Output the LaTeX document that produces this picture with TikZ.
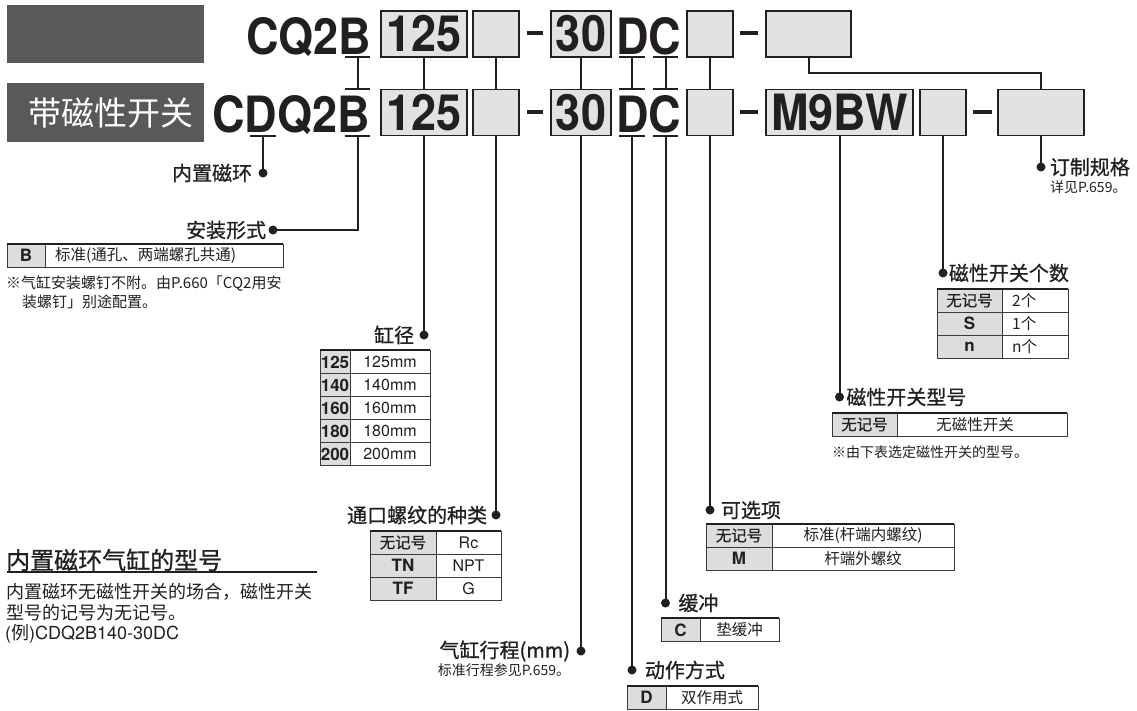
\documentclass[tikz,border=0pt]{standalone}
\usepackage{fontspec}
\setmainfont{Noto Sans CJK SC}
\newfontfamily\cjk{Noto Sans CJK SC}
\newfontfamily\cjkm{Noto Sans CJK SC}[FakeBold=0.8]
\newfontfamily\bigf{TeX Gyre Heros}[FakeStretch=0.9]
\newfontfamily\latf{TeX Gyre Heros}
\newcommand\bigtxt{\bigf\bfseries\fontsize{50}{50}\selectfont}
\newcommand\labf{\cjkm\fontsize{20}{20}\selectfont}
\newcommand\tabf{\cjk\fontsize{15.5}{15.5}\selectfont}
\newcommand\tabk{\cjkm\fontsize{15.5}{15.5}\selectfont}
\newcommand\codef{\latf\bfseries\fontsize{17}{17}\selectfont}
\newcommand\numf{\latf\fontsize{16}{16}\selectfont}
\newcommand\notef{\cjk\fontsize{14}{14}\selectfont}
\definecolor{ink}{HTML}{231F20}
\definecolor{hdr}{HTML}{58595B}
\definecolor{boxg}{HTML}{E1E2E3}
\definecolor{keyg}{HTML}{DCDDDE}
\definecolor{tline}{HTML}{3A3A3C}
\begin{document}
\begin{tikzpicture}[x=1pt,y=-1pt,
  ln/.style={draw=ink, line width=2pt},
  codebox/.style={draw=ink, line width=1.6pt, fill=boxg, inner sep=0pt, minimum height=46pt, font=\bigtxt, text=ink},
  bigt/.style={inner sep=0pt, font=\bigtxt, text=ink},
  dotn/.style={circle, fill=ink, inner sep=0pt, minimum size=9pt},
  lab/.style={inner sep=0pt, font=\labf, text=ink},
  txt/.style={inner sep=0pt, text=ink},
  kc/.style={draw=tline, line width=0.8pt, fill=keyg, inner sep=0pt, minimum height=23pt, text=ink},
  vc/.style={draw=tline, line width=0.8pt, fill=white, inner sep=0pt, minimum height=23pt, text=ink},
  topl/.style={draw=ink, line width=1.8pt},
  dashbar/.style={fill=ink, inner sep=0pt, minimum width=16pt, minimum height=3.6pt}
]
\useasboundingbox (0,0) rectangle (1137,710);
\fill[white] (0,0) rectangle (1137,710);

% header boxes
\node[fill=hdr, inner sep=0pt, minimum width=197pt, minimum height=58pt] (hdr1) at (105.5,34) {};
\node[fill=hdr, inner sep=0pt, minimum width=197pt, minimum height=59pt] (hdr2) at (105.5,112.5) {};
\node[txt, text=white, font=\cjk\fontsize{33}{33}\selectfont] (hdrt) at (111,113) {带磁性开关};

% top row
\node[bigt, anchor=base west] (tCQ) at (246,54) {CQ2B};
\node[codebox, minimum width=86pt] (b125t) at (424,34) {125};
\node[codebox, minimum width=46pt] (e1t) at (496,34) {};
\node[dashbar] (da1) at (535,33) {};
\node[codebox, minimum width=60pt] (b30t) at (581,34) {30};
\node[bigt, anchor=base west] (tDCt) at (616,54) {DC};
\node[codebox, minimum width=46pt] (e2t) at (710,34) {};
\node[dashbar, minimum width=18pt] (da2) at (749,33) {};
\node[codebox, minimum width=85pt] (wt) at (808.5,34) {};

% bottom row
\node[bigt, anchor=base west] (tCDQ) at (212,132) {CDQ2B};
\node[codebox, minimum width=86pt] (b125b) at (424,112.5) {125};
\node[codebox, minimum width=46pt] (e1b) at (496,112.5) {};
\node[dashbar] (da3) at (535,112) {};
\node[codebox, minimum width=60pt] (b30b) at (581,112.5) {30};
\node[bigt, anchor=base west] (tDCb) at (616,132) {DC};
\node[codebox, minimum width=46pt] (e2b) at (710,112.5) {};
\node[dashbar, minimum width=18pt] (da4) at (749,112) {};
\node[codebox, minimum width=147pt] (m9b) at (839.5,112.5) {M9BW};
\node[codebox, minimum width=46pt] (cntb) at (943,112.5) {};
\node[dashbar, minimum width=19pt] (da5) at (982.5,112) {};
\node[codebox, minimum width=86pt] (fb) at (1041,112.5) {};

% connectors between rows
\draw[ln] (b125t.south) -- (b125b.north);
\draw[ln] (e1t.south) -- (e1b.north);
\draw[ln] (b30t.south) -- (b30b.north);
\draw[ln] (e2t.south) -- (e2b.north);
\draw[ln] (wt.south) -- ++(0,15) -| (fb.north);

% I-beam for B
\coordinate (bBt1) at (345,57); \coordinate (bBt2) at (370,57); \coordinate (bBtm) at (357.5,57);
\coordinate (bBb1) at (345,89); \coordinate (bBb2) at (370,89); \coordinate (bBbm) at (357.5,89);
\draw[ln] (bBt1) -- (bBt2); \draw[ln] (bBb1) -- (bBb2); \draw[ln] (bBtm) -- (bBbm);
% I-beam for D
\coordinate (bDt1) at (619,57); \coordinate (bDt2) at (645,57); \coordinate (bDtm) at (632,57);
\coordinate (bDb1) at (619,89); \coordinate (bDb2) at (645,89); \coordinate (bDbm) at (632,89);
\draw[ln] (bDt1) -- (bDt2); \draw[ln] (bDb1) -- (bDb2); \draw[ln] (bDtm) -- (bDbm);
% I-beam for C
\coordinate (bCt1) at (653,57); \coordinate (bCt2) at (678,57); \coordinate (bCtm) at (665.5,57);
\coordinate (bCb1) at (653,89); \coordinate (bCb2) at (678,89); \coordinate (bCbm) at (665.5,89);
\draw[ln] (bCt1) -- (bCt2); \draw[ln] (bCb1) -- (bCb2); \draw[ln] (bCtm) -- (bCbm);

% under-bars bottom row
\coordinate (uD1) at (250,136); \coordinate (uD2) at (276,136); \coordinate (uDm) at (263,136);
\coordinate (uB1) at (345,136); \coordinate (uB2) at (370,136); \coordinate (uBm) at (357.5,136);
\coordinate (uDD1) at (619,136); \coordinate (uDD2) at (645,136); \coordinate (uDDm) at (632,136);
\coordinate (uCC1) at (653,136); \coordinate (uCC2) at (678,136); \coordinate (uCCm) at (665.5,136);
\draw[ln] (uD1) -- (uD2); \draw[ln] (uB1) -- (uB2);
\draw[ln] (uDD1) -- (uDD2); \draw[ln] (uCC1) -- (uCC2);

% ---- 内置磁环
\node[dotn] (dNZ) at (263,173) {};
\draw[ln] (uDm) -- (dNZ.center);
\node[lab, anchor=east] (lNZ) at ([xshift=-6pt]dNZ.west) {内置磁环};

% ---- 安装形式
\node[dotn] (dAZ) at (273,230) {};
\draw[ln] (uBm) |- (dAZ.center);
\node[lab, anchor=east] (lAZ) at ([xshift=-2pt]dAZ.west) {安装形式};
\node[kc, minimum width=38pt] (tBk) at (26,255.5) {\codef B};
\node[vc, minimum width=238pt] (tBv) at (164,255.5) {};
\node[txt, anchor=west, font=\tabf] (tBt) at (55,255.5) {标准(通孔、两端螺孔共通)};
\draw[topl] (tBk.north west) -- (tBv.north east);
\node[txt, anchor=west, font=\cjk\fontsize{15}{15}\selectfont] (nB1) at (6,283) {※气缸安装螺钉不附。由P.660「CQ2用安};
\node[txt, anchor=west, font=\cjk\fontsize{15}{15}\selectfont] (nB2) at (22,302) {装螺钉」别途配置。};

% ---- 缸径
\node[dotn] (d125) at (424,335) {};
\draw[ln] (b125b.south) -- (d125.center);
\node[lab, anchor=east] (l125) at ([xshift=-5pt]d125.west) {缸径};
\node[kc, minimum width=30pt] (c1k) at (335,362) {\codef 125};
\node[vc, minimum width=80pt] (c1v) at (390,362) {\numf 125mm};
\node[kc, minimum width=30pt] (c2k) at (335,385) {\codef 140};
\node[vc, minimum width=80pt] (c2v) at (390,385) {\numf 140mm};
\node[kc, minimum width=30pt] (c3k) at (335,408) {\codef 160};
\node[vc, minimum width=80pt] (c3v) at (390,408) {\numf 160mm};
\node[kc, minimum width=30pt] (c4k) at (335,431) {\codef 180};
\node[vc, minimum width=80pt] (c4v) at (390,431) {\numf 180mm};
\node[kc, minimum width=30pt] (c5k) at (335,454) {\codef 200};
\node[vc, minimum width=80pt] (c5v) at (390,454) {\numf 200mm};
\draw[topl] (c1k.north west) -- (c1v.north east);

% ---- 通口螺纹的种类
\node[dotn] (dTK) at (496,515) {};
\draw[ln] (e1b.south) -- (dTK.center);
\node[lab, anchor=east] (lTK) at ([xshift=-4pt]dTK.west) {通口螺纹的种类};
\node[kc, minimum width=66pt] (p1k) at (403,542.5) {\tabk 无记号};
\node[vc, minimum width=65pt] (p1v) at (468.5,542.5) {\numf Rc};
\node[kc, minimum width=66pt] (p2k) at (403,565.5) {\codef TN};
\node[vc, minimum width=65pt] (p2v) at (468.5,565.5) {\numf NPT};
\node[kc, minimum width=66pt] (p3k) at (403,588.5) {\codef TF};
\node[vc, minimum width=65pt] (p3v) at (468.5,588.5) {\numf G};
\draw[topl] (p1k.north west) -- (p1v.north east);

% ---- 气缸行程
\node[dotn] (dST) at (581,651) {};
\draw[ln] (b30b.south) -- (dST.center);
\node[lab, anchor=east] (lST) at ([xshift=-6pt]dST.west) {气缸行程(mm)};
\node[txt, anchor=east, font=\notef] (nST) at ([xshift=-6pt,yshift=-19pt]dST.west) {标准行程参见P.659。};

% ---- 动作方式
\node[dotn] (dDZ) at (632,670) {};
\draw[ln] (uDDm) -- (dDZ.center);
\node[lab, anchor=west] (lDZ) at ([xshift=8pt]dDZ.east) {动作方式};
\node[kc, minimum width=39pt] (tDk) at (646.5,697.5) {\codef D};
\node[vc, minimum width=92pt] (tDv) at (712,697.5) {\tabf 双作用式};
\draw[topl] (tDk.north west) -- (tDv.north east);

% ---- 缓冲
\node[dotn] (dHC) at (665.5,603) {};
\draw[ln] (uCCm) -- (dHC.center);
\node[lab, anchor=west] (lHC) at ([xshift=8pt]dHC.east) {缓冲};
\node[kc, minimum width=39pt] (tCk) at (680.5,630) {\codef C};
\node[vc, minimum width=79pt] (tCv) at (739.5,630) {\tabf 垫缓冲};
\draw[topl] (tCk.north west) -- (tCv.north east);

% ---- 可选项
\node[dotn] (dKX) at (710,510) {};
\draw[ln] (e2b.south) -- (dKX.center);
\node[lab, anchor=west] (lKX) at ([xshift=6pt]dKX.east) {可选项};
\node[kc, minimum width=66pt] (o1k) at (739,535.5) {\tabk 无记号};
\node[vc, minimum width=182pt] (o1v) at (863,535.5) {\tabf 标准(杆端内螺纹)};
\node[kc, minimum width=66pt] (o2k) at (739,558.5) {\codef M};
\node[vc, minimum width=182pt] (o2v) at (863,558.5) {\tabf 杆端外螺纹};
\draw[topl] (o1k.north west) -- (o1v.north east);

% ---- 磁性开关型号
\node[dotn] (dXH) at (839.5,397) {};
\draw[ln] (m9b.south) -- (dXH.center);
\node[lab, anchor=west] (lXH) at ([xshift=2pt]dXH.east) {磁性开关型号};
\node[kc, minimum width=65pt] (s1k) at (864.5,424.5) {\tabk 无记号};
\node[vc, minimum width=170pt] (s1v) at (982,424.5) {\hspace*{-14pt}\tabf 无磁性开关};
\draw[topl] (s1k.north west) -- (s1v.north east);
\node[txt, anchor=west, font=\notef] (nXH) at (832,452) {※由下表选定磁性开关的型号。};

% ---- 磁性开关个数
\node[dotn] (dGS) at (943,273) {};
\draw[ln] (cntb.south) -- (dGS.center);
\node[lab, anchor=west] (lGS) at ([xshift=1pt]dGS.east) {磁性开关个数};
\node[kc, minimum width=65pt] (g1k) at (969.5,300.5) {\tabk 无记号};
\node[vc, minimum width=66pt] (g1v) at (1035,300.5) {};
\node[kc, minimum width=65pt] (g2k) at (969.5,323.5) {\codef S};
\node[vc, minimum width=66pt] (g2v) at (1035,323.5) {};
\node[kc, minimum width=65pt] (g3k) at (969.5,346.5) {\codef n};
\node[vc, minimum width=66pt] (g3v) at (1035,346.5) {};
\node[txt, anchor=west, font=\tabf] (g1t) at (1012,300.5) {2个};
\node[txt, anchor=west, font=\tabf] (g2t) at (1012,323.5) {1个};
\node[txt, anchor=west, font=\tabf] (g3t) at (1012,346.5) {n个};
\draw[topl] (g1k.north west) -- (g1v.north east);

% ---- 订制规格
\node[dotn] (dDZG) at (1041,167) {};
\draw[ln] (fb.south) -- (dDZG.center);
\node[lab, anchor=west] (lDZG) at ([xshift=4pt]dDZG.east) {订制规格};
\node[txt, anchor=west, font=\notef] (nDZG) at (1050,187) {详见P.659。};

% ---- bottom-left note
\node[txt, anchor=west, font=\cjkm\fontsize{24}{24}\selectfont] (bt) at (6,560) {内置磁环气缸的型号};
\coordinate (ul1) at (7,572); \coordinate (ul2) at (317,572);
\draw[ink, line width=2pt] (ul1) -- (ul2);
\node[txt, anchor=west, font=\cjk\fontsize{18}{18}\selectfont] (bb1) at (6,592) {内置磁环无磁性开关的场合，磁性开关};
\node[txt, anchor=west, font=\cjk\fontsize{18}{18}\selectfont] (bb2) at (6,613) {型号的记号为无记号。};
\node[txt, anchor=west, font=\latf\fontsize{18}{18}\selectfont] (bb3) at (5,634) {(\cjk 例\latf)CDQ2B140-30DC};
\end{tikzpicture}
\end{document}
